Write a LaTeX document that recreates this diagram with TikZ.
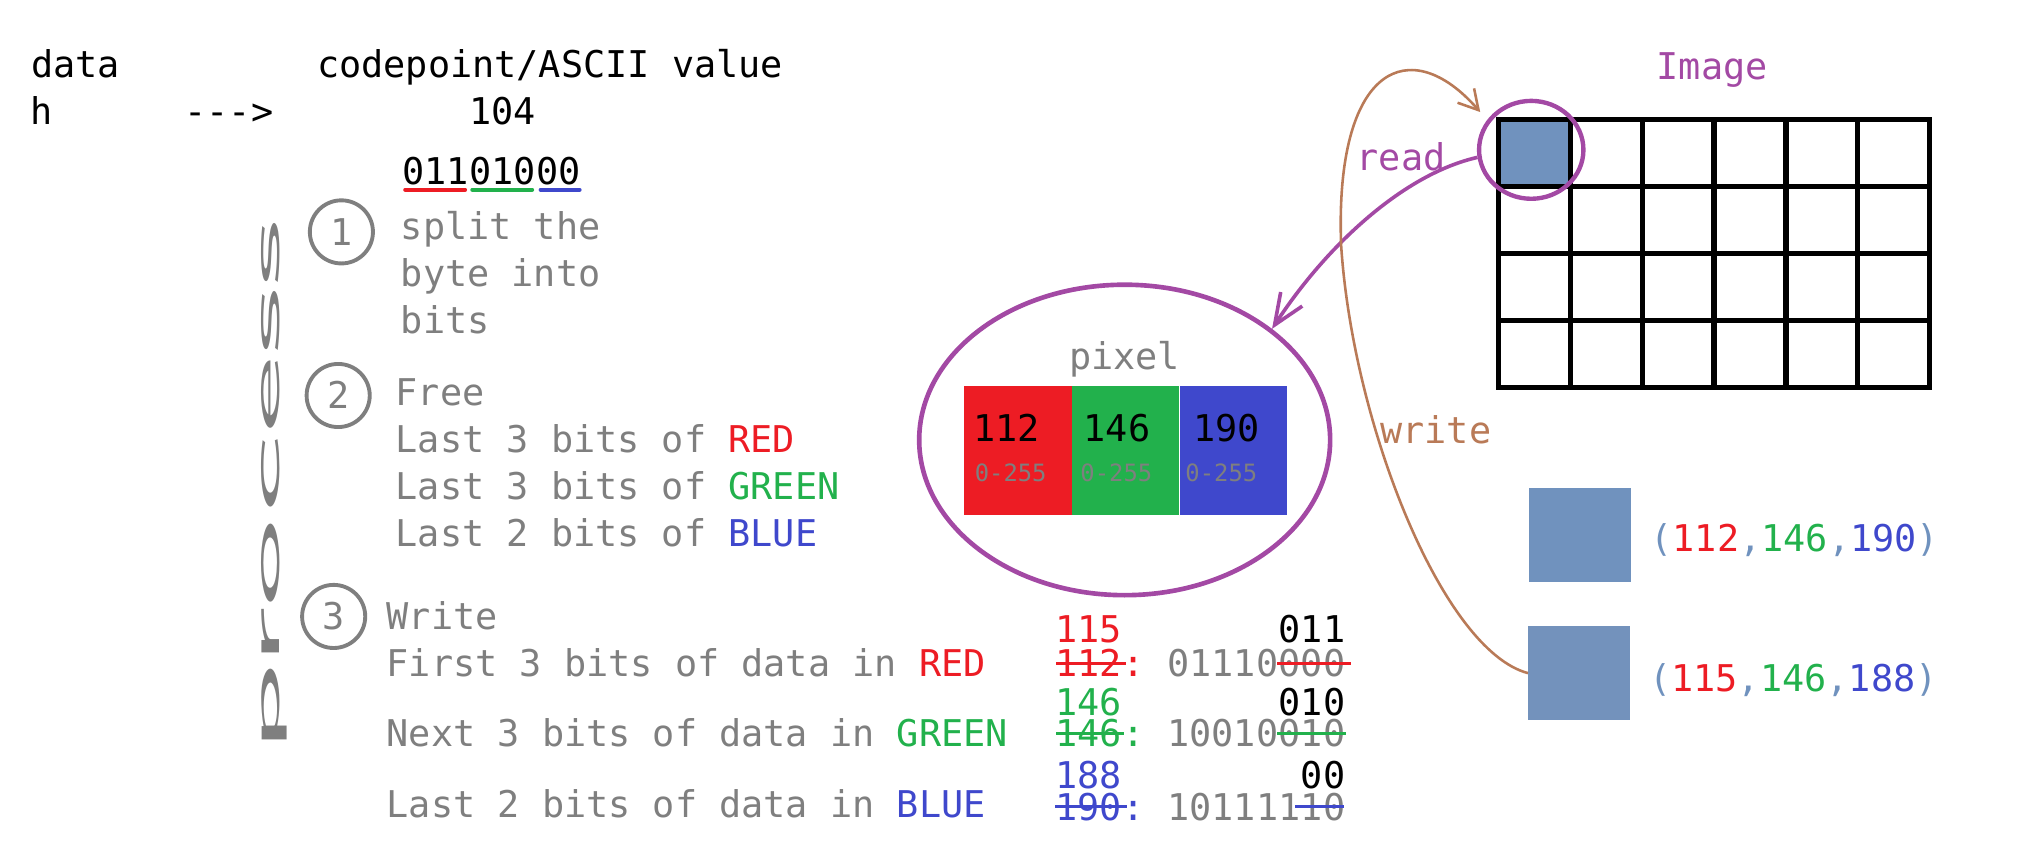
\documentclass[tikz,border=0pt]{standalone}
\usepackage{fontspec}
\usepackage{tikz}
\usetikzlibrary{positioning,shapes.geometric,arrows.meta}
\newfontfamily\codefont{DejaVu Sans Mono}
\definecolor{pred}{RGB}{237,28,36}
\definecolor{pgreen}{RGB}{34,177,76}
\definecolor{pblue}{RGB}{63,72,204}
\definecolor{lilac}{RGB}{163,73,164}
\definecolor{rust}{RGB}{185,122,87}
\definecolor{pixcol}{RGB}{112,146,190}
\definecolor{newcol}{RGB}{115,146,188}
\definecolor{notegray}{RGB}{127,127,127}
\tikzset{
  txt/.style={font=\codefont\fontsize{28.6pt}{34pt}\selectfont, inner sep=0pt, text height=20.8pt, text depth=0pt},
  rangetxt/.style={txt, font=\codefont\fontsize{18.5pt}{22pt}\selectfont, text height=13.5pt},
  stepnum/.style={txt, circle, draw=notegray, line width=3pt, minimum size=49pt, text=notegray},
  chan/.style={inner sep=0pt, minimum width=83.2pt, minimum height=100pt},
  swatch/.style={fill=pixcol, inner sep=0pt, minimum width=79pt, minimum height=73pt},
  gridline/.style={line width=4pt, line cap=rect},
  strike/.style={line width=2.6pt},
  uline/.style={line width=3pt, line cap=round}
}
\begin{document}
\begin{tikzpicture}[x=1pt,y=-1pt,>={Straight Barb[length=24pt,width=20pt]}]
\useasboundingbox (0,0) rectangle (1568,663);
% header
\node[txt, anchor=base west] (hdata) at (24,60) {data};
\node[txt, anchor=base west] (hcode) at (246,60) {codepoint/ASCII value};
\node[txt, anchor=base west] (chr) at (23.5,96.5) {h};
\node[txt, anchor=base west] (arr) at (143,96.5) {-\kern0pt-\kern0pt-\kern0pt>};
\node[txt, anchor=base west] (asc) at (364,96.5) {104};
\node[txt, anchor=base west] (bitR) at (312,143) {011};
\node[txt, anchor=base west] (bitG) at (bitR.base east) {010};
\node[txt, anchor=base west] (bitB) at (bitG.base east) {00};
\draw[pred, uline] ([xshift=2.5pt,yshift=-4pt]bitR.south west) -- ([xshift=-3pt,yshift=-4pt]bitR.south east);
\draw[pgreen, uline] ([xshift=2.5pt,yshift=-4pt]bitG.south west) -- ([xshift=-3pt,yshift=-4pt]bitG.south east);
\draw[pblue, uline] ([xshift=3.5pt,yshift=-4pt]bitB.south west) -- ([xshift=-1pt,yshift=-4pt]bitB.south east);
% vertical word
\node[rotate=90, text=notegray, inner sep=0pt] (proc) at (213,378) {\resizebox{416pt}{14pt}{\sffamily process}};
% step 1
\node[stepnum] (s1) at (265,180) {1};
\node[txt, anchor=base west, text=notegray] (s1a) at (311,186) {split the};
\node[txt, anchor=base west, text=notegray] (s1b) at (311,222.6) {byte into};
\node[txt, anchor=base west, text=notegray] (s1c) at (311,258.7) {bits};
% step 2
\node[stepnum] (s2) at (262.5,307) {2};
\node[txt, anchor=base west, text=notegray] (s2a) at (307,315) {Free};
\node[txt, anchor=base west, text=notegray] (s2b) at (307,351.5) {Last 3 bits of \textcolor{pred}{RED}};
\node[txt, anchor=base west, text=notegray] (s2c) at (307,387.7) {Last 3 bits of \textcolor{pgreen}{GREEN}};
\node[txt, anchor=base west, text=notegray] (s2d) at (307,424.4) {Last 2 bits of \textcolor{pblue}{BLUE}};
% step 3
\node[stepnum] (s3) at (259,478.5) {3};
\node[txt, anchor=base west, text=notegray] (s3a) at (300,489) {Write};
\node[txt, anchor=base west, text=notegray] (s3b) at (300,525.4) {First 3 bits of data in \textcolor{pred}{RED}};
\node[txt, anchor=base west, text=notegray] (s3c) at (300,579.7) {Next 3 bits of data in \textcolor{pgreen}{GREEN}};
\node[txt, anchor=base west, text=notegray] (s3d) at (300,634.6) {Last 2 bits of data in \textcolor{pblue}{BLUE}};
% red byte
\node[txt, anchor=base west, text=pred] (oldR) at (819,525.4) {112};
\node[txt, anchor=base west, text=pred] (colR) at (oldR.base east) {:};
\node[txt, anchor=base west, text=notegray] (keepR) at ([xshift=17.2pt]colR.base east) {01110};
\node[txt, anchor=base west, text=notegray] (lostR) at (keepR.base east) {000};
\node[txt, text=pred, above=5.5pt of oldR] (newR) {115};
\node[txt, above=5.5pt of lostR] (setR) {011};
\draw[pred, strike] ([xshift=1pt]oldR.west) -- ([xshift=3pt]oldR.east);
\draw[pred, strike] ([xshift=-1pt]lostR.west) -- ([xshift=4pt]lostR.east);
% green byte
\node[txt, anchor=base west, text=pgreen] (oldG) at (819,579.7) {146};
\node[txt, anchor=base west, text=pgreen] (colG) at (oldG.base east) {:};
\node[txt, anchor=base west, text=notegray] (keepG) at ([xshift=17.2pt]colG.base east) {10010};
\node[txt, anchor=base west, text=notegray] (lostG) at (keepG.base east) {010};
\node[txt, text=pgreen, above=3pt of oldG] (newG) {146};
\node[txt, above=3pt of lostG] (setG) {010};
\draw[pgreen, strike] ([xshift=1pt]oldG.west) -- ([xshift=1.5pt]oldG.east);
\draw[pgreen, strike] ([xshift=-1pt]lostG.west) -- ([xshift=0pt]lostG.east);
% blue byte
\node[txt, anchor=base west, text=pblue] (oldB) at (819,636.6) {190};
\node[txt, anchor=base west, text=pblue] (colB) at (oldB.base east) {:};
\node[txt, anchor=base west, text=notegray] (keepB) at ([xshift=17.2pt]colB.base east) {101111};
\node[txt, anchor=base west, text=notegray] (lostB) at (keepB.base east) {10};
\node[txt, text=pblue, above=3pt of oldB] (newB) {188};
\node[txt, above=3pt of lostB] (setB) {00};
\draw[pblue, strike] (oldB.west) -- ([xshift=4pt]oldB.east);
\draw[pblue, strike] ([xshift=-4pt]lostB.west) -- ([xshift=-1pt]lostB.east);
% pixel
\node[ellipse, draw=lilac, line width=3.6pt, minimum width=319pt, minimum height=241pt, inner sep=0pt] (pxl) at (873,341.5) {};
\node[txt, anchor=base, text=notegray] (pxltxt) at (873,287) {pixel};
\node[chan, fill=pred, anchor=north west] (chR) at (748.4,299.7) {};
\node[chan, fill=pgreen, right=0pt of chR] (chG) {};
\node[chan, fill=pblue, right=0pt of chG] (chB) {};
\node[txt, anchor=base west] (valR) at (755.5,343) {112};
\node[txt, anchor=base west] (valG) at (841,343) {146};
\node[txt, anchor=base west] (valB) at (926,343) {190};
\node[rangetxt, anchor=base west, text=notegray] (rngR) at (756.5,374) {0-255};
\node[rangetxt, anchor=base west, text=notegray] (rngG) at (838.5,374) {0-255};
\node[rangetxt, anchor=base west, text=notegray] (rngB) at (920,374) {0-255};
% image
\node[txt, anchor=base, text=lilac] (imgtxt) at (1329,62) {Image};
\node[fill=pixcol, inner sep=0pt, minimum width=55.8pt, minimum height=52pt, anchor=north west] (cell) at (1163,93) {};
\foreach \i in {0,...,6} \draw[gridline] (1163+\i*55.83,93) -- (1163+\i*55.83,301);
\foreach \j in {0,...,4} \draw[gridline] (1163,93+\j*52) -- (1498,93+\j*52);
\node[ellipse, draw=lilac, line width=3.4pt, minimum width=81pt, minimum height=76pt, inner sep=0pt] (hl) at (1188.6,116.3) {};
% read / write
\node[txt, anchor=base, text=lilac] (rd) at (1087.5,132) {read};
\draw[->, lilac, line width=2.8pt] (hl.188) .. controls (1090,135) and (1030,190) .. (pxl.37);
\node[swatch] (oldpix) at (1226.5,415.5) {};
\node[swatch, fill=newcol] (newpix) at (1225.75,522.5) {};
\node[txt, anchor=base west] (oldval) at (1281,428) {\textcolor{pixcol}{(}\textcolor{pred}{112}\textcolor{pixcol}{,}\textcolor{pgreen}{146}\textcolor{pixcol}{,}\textcolor{pblue}{190}\textcolor{pixcol}{)}};
\node[txt, anchor=base west] (newval) at (1280,536.5) {\textcolor{pixcol}{(}\textcolor{pred}{115}\textcolor{pixcol}{,}\textcolor{pgreen}{146}\textcolor{pixcol}{,}\textcolor{pblue}{188}\textcolor{pixcol}{)}};
\node[txt, anchor=base, text=rust] (wr) at (1114.5,344) {write};
\coordinate (wtip) at (1149,87);
\draw[->, rust, line width=2pt, >={Straight Barb[length=15pt,width=17pt]}] (newpix.west) .. controls (1120,505) and (1050,330) .. (1041,190) .. controls (1036,50) and (1095,25) .. (wtip);
\end{tikzpicture}
\end{document}
